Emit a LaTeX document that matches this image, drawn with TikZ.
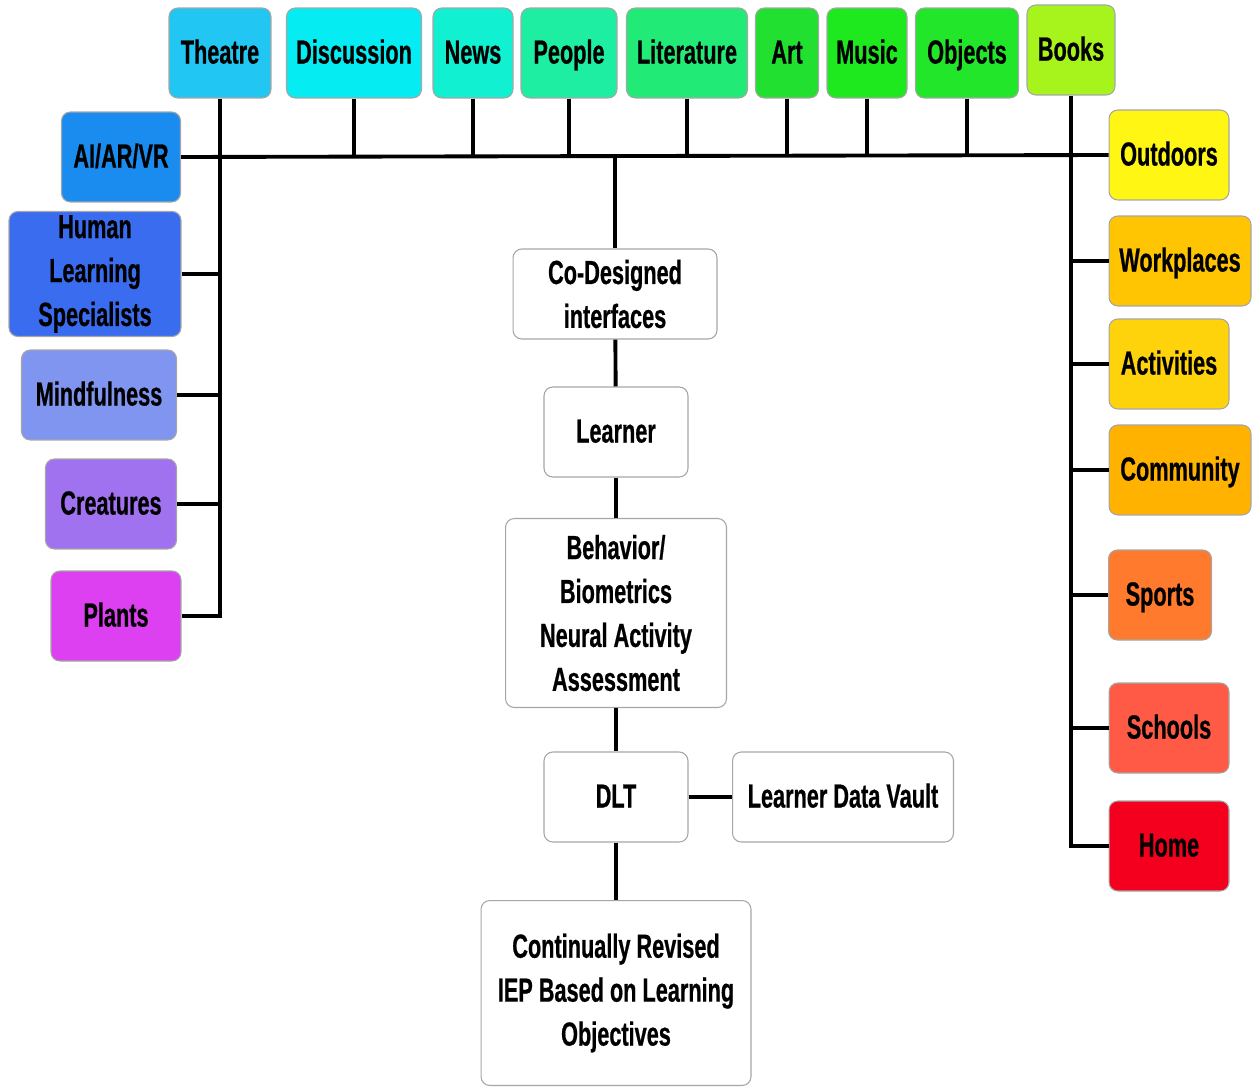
\documentclass[tikz,border=0pt]{standalone}
\usepackage{fontspec}
\setmainfont{Liberation Sans}[FakeStretch=0.65, FakeBold=0.6]

\definecolor{cTheatre}{HTML}{22C6F2}
\definecolor{cDiscussion}{HTML}{05ECF2}
\definecolor{cNews}{HTML}{12F0D2}
\definecolor{cPeople}{HTML}{1EEEA2}
\definecolor{cLiterature}{HTML}{22EA76}
\definecolor{cArt}{HTML}{22E030}
\definecolor{cMusic}{HTML}{1EE81E}
\definecolor{cObjects}{HTML}{22E62A}
\definecolor{cBooks}{HTML}{A6F41C}
\definecolor{cAI}{HTML}{1A8CF0}
\definecolor{cHuman}{HTML}{3A6CF0}
\definecolor{cMind}{HTML}{7F95F0}
\definecolor{cCreatures}{HTML}{A072F0}
\definecolor{cPlants}{HTML}{DC40F0}
\definecolor{cOutdoors}{HTML}{FFF614}
\definecolor{cWork}{HTML}{FFC402}
\definecolor{cActivities}{HTML}{FFD30C}
\definecolor{cCommunity}{HTML}{FFB200}
\definecolor{cSports}{HTML}{FF7A2C}
\definecolor{cSchools}{HTML}{FF5A46}
\definecolor{cHome}{HTML}{F4001E}

\begin{document}
\begin{tikzpicture}[
  x=0.02cm, y=-0.02cm,
  every node/.style={draw=black!35, line width=0.6pt, rounded corners=5pt,
    inner sep=0pt, align=center, minimum height=1.8cm,
    text height=15pt, text depth=3pt,
    font=\fontsize{19}{25}\selectfont\bfseries},
  multi/.style={text height=, text depth=},
  link/.style={line width=2.2pt, black}
  ]

  \useasboundingbox (0,0) rectangle (1253,1088);

  % Top row
  \node[fill=cTheatre, minimum width=2.04cm] (theatre) at (220,53) {Theatre};
  \node[fill=cDiscussion, minimum width=2.7cm] (discussion) at (354,53) {Discussion};
  \node[fill=cNews, minimum width=1.6cm] (news) at (473,53) {News};
  \node[fill=cPeople, minimum width=1.92cm] (people) at (569,53) {People};
  \node[fill=cLiterature, minimum width=2.42cm] (literature) at (687,53) {Literature};
  \node[fill=cArt, minimum width=1.26cm] (art) at (787,53) {Art};
  \node[fill=cMusic, minimum width=1.6cm] (music) at (867,53) {Music};
  \node[fill=cObjects, minimum width=2.06cm] (objects) at (967,53) {Objects};
  \node[fill=cBooks, minimum width=1.76cm] (books) at (1071,50) {Books};

  % Left column
  \node[fill=cAI, minimum width=2.38cm] (ai) at (121,157) {AI/AR/VR};
  \node[fill=cHuman, multi, minimum width=3.44cm, minimum height=2.5cm] (human) at (95,274) {Human\\Learning\\Specialists};
  \node[fill=cMind, minimum width=3.1cm] (mind) at (99,395) {Mindfulness};
  \node[fill=cCreatures, minimum width=2.62cm] (creatures) at (111,504) {Creatures};
  \node[fill=cPlants, minimum width=2.6cm] (plants) at (116,616) {Plants};

  % Right column
  \node[fill=cOutdoors, minimum width=2.4cm] (outdoors) at (1169,155) {Outdoors};
  \node[fill=cWork, minimum width=2.84cm] (work) at (1180,261) {Workplaces};
  \node[fill=cActivities, minimum width=2.4cm] (activities) at (1169,364) {Activities};
  \node[fill=cCommunity, minimum width=2.84cm] (community) at (1180,470) {Community};
  \node[fill=cSports, minimum width=2.06cm] (sports) at (1160,595) {Sports};
  \node[fill=cSchools, minimum width=2.4cm] (schools) at (1169,728) {Schools};
  \node[fill=cHome, minimum width=2.4cm] (home) at (1169,846) {Home};

  % Center column
  \node[fill=white, multi, minimum width=4.08cm] (codesign) at (615,294) {Co-Designed\\interfaces};
  \node[fill=white, minimum width=2.88cm] (learner) at (616,432) {Learner};
  \node[fill=white, multi, minimum width=4.42cm, minimum height=3.78cm] (behavior) at (616,613) {Behavior/\\Biometrics\\Neural Activity\\Assessment};
  \node[fill=white, minimum width=2.88cm] (dlt) at (616,797) {DLT};
  \node[fill=white, minimum width=4.42cm] (vault) at (843,797) {Learner Data Vault};
  \node[fill=white, multi, minimum width=5.4cm, minimum height=3.7cm] (iep) at (616,993) {Continually Revised\\IEP Based on Learning\\Objectives};

  % Main bus
  \draw[link] (ai.east) -- (outdoors.west);
  \foreach \n in {discussion,news,people,literature,art,music,objects}
    \draw[link] (\n.south) -- (\n.south |- ai.east);

  % Left branch
  \draw[link] (theatre.south) -- (theatre.south |- plants.east) -- (plants.east);
  \foreach \n in {human,mind,creatures}
    \draw[link] (\n.east) -- (\n.east -| theatre.south);

  % Right branch
  \draw[link] (books.south) -- (books.south |- home.west) -- (home.west);
  \foreach \n in {work,activities,community,sports,schools}
    \draw[link] (\n.west) -- (\n.west -| books.south);

  % Center chain
  \draw[link] (codesign.north) -- (codesign.north |- ai.east);
  \draw[link] (codesign) -- (learner);
  \draw[link] (learner) -- (behavior);
  \draw[link] (behavior) -- (dlt);
  \draw[link] (dlt) -- (vault);
  \draw[link] (dlt) -- (iep);

\end{tikzpicture}
\end{document}
